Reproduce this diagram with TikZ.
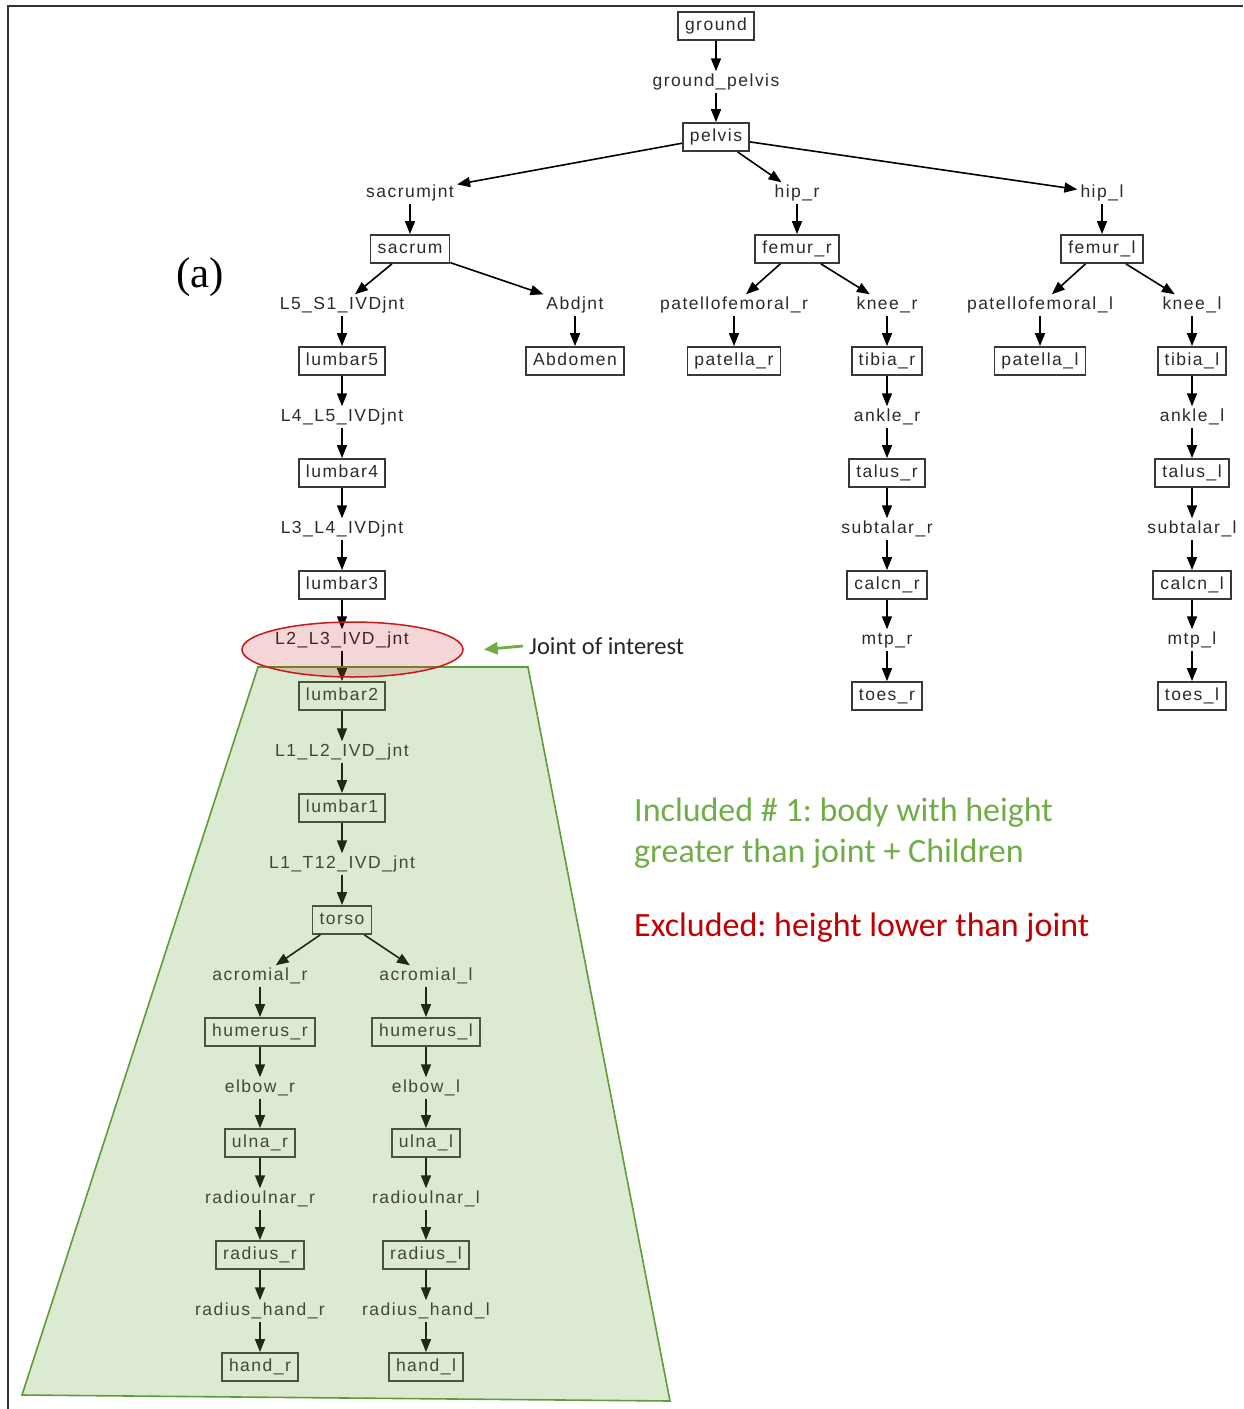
\documentclass[tikz,border=0pt]{standalone}
\usepackage{fontspec}
\setmainfont{Liberation Sans}
\newfontfamily\dfont{Liberation Sans}[LetterSpace=8.5]
\newfontfamily\cfont{Carlito}
\newfontfamily\tfont{Liberation Serif}
\usetikzlibrary{arrows.meta,shapes.geometric}
\definecolor{txt}{HTML}{2A2A2A}
\definecolor{ogreen}{HTML}{70AD47}
\definecolor{gline}{HTML}{5E9C3A}
\definecolor{ored}{HTML}{C00000}
\frenchspacing
\begin{document}
\begin{tikzpicture}[x=1pt,y=-1pt,
  lbl/.style={font=\dfont\fontsize{17.5}{17.5}\selectfont, text=txt, text height=12.5pt, text depth=3.5pt, inner xsep=3pt, inner ysep=2.5pt},
  body/.style={lbl, draw=black!78, line width=1.8pt, inner xsep=7pt, inner ysep=6pt},
  edge/.style={-{Triangle[length=13pt,width=10pt]}, line width=1.6pt, black},
  garrow/.style={-{Triangle[length=14pt,width=12pt]}, line width=2.8pt, ogreen}]
\useasboundingbox (0,0) rectangle (1243,1409);
\draw[line width=2.2pt, black!80] (8,1409) -- (8,6) -- (1243,6);

% top
\node[body] (ground) at (716,26) {ground};
\node[lbl] (gp) at (716,82) {ground\_pelvis};
\node[body] (pelvis) at (716,137) {pelvis};
\node[lbl] (sacj) at (410,193) {sacrumjnt};
\node[lbl] (hipr) at (797,193) {hip\_r};
\node[lbl] (hipl) at (1102,193) {hip\_l};
\node[body] (sacrum) at (410,249) {sacrum};
\node[body] (femr) at (797,249) {femur\_r};
\node[body] (feml) at (1102,249) {femur\_l};
\node[lbl] (l5s1) at (342,305) {L5\_S1\_IVDjnt};
\node[lbl] (abdj) at (575,305) {Abdjnt};
\node[lbl] (patfr) at (734,305) {patellofemoral\_r};
\node[lbl] (kneer) at (887,305) {knee\_r};
\node[lbl] (patfl) at (1040,305) {patellofemoral\_l};
\node[lbl] (kneel) at (1192,305) {knee\_l};
\node[body] (lumbar5) at (342,361) {lumbar5};
\node[body] (abdomen) at (575,361) {Abdomen};
\node[body] (patr) at (734,361) {patella\_r};
\node[body] (tibr) at (887,361) {tibia\_r};
\node[body] (patl) at (1040,361) {patella\_l};
\node[body] (tibl) at (1192,361) {tibia\_l};
% spine
\node[lbl] (l4l5) at (342,417) {L4\_L5\_IVDjnt};
\node[body] (lumbar4) at (342,473) {lumbar4};
\node[lbl] (l3l4) at (342,529) {L3\_L4\_IVDjnt};
\node[body] (lumbar3) at (342,585) {lumbar3};
\node[lbl] (l2l3) at (342,640) {L2\_L3\_IVD\_jnt};
\node[body] (lumbar2) at (342,696) {lumbar2};
\node[lbl] (l1l2) at (342,752) {L1\_L2\_IVD\_jnt};
\node[body] (lumbar1) at (342,808) {lumbar1};
\node[lbl] (l1t12) at (342,864) {L1\_T12\_IVD\_jnt};
\node[body] (torso) at (342,920) {torso};
% legs
\node[lbl] (ankr) at (887,417) {ankle\_r};
\node[body] (talr) at (887,473) {talus\_r};
\node[lbl] (subr) at (887,529) {subtalar\_r};
\node[body] (calr) at (887,585) {calcn\_r};
\node[lbl] (mtpr) at (887,640) {mtp\_r};
\node[body] (toer) at (887,696) {toes\_r};
\node[lbl] (ankl) at (1192,417) {ankle\_l};
\node[body] (tall) at (1192,473) {talus\_l};
\node[lbl] (subl) at (1192,529) {subtalar\_l};
\node[body] (call) at (1192,585) {calcn\_l};
\node[lbl] (mtpl) at (1192,640) {mtp\_l};
\node[body] (toel) at (1192,696) {toes\_l};
% arms
\node[lbl] (acr) at (260,976) {acromial\_r};
\node[body] (humr) at (260,1032) {humerus\_r};
\node[lbl] (elbr) at (260,1088) {elbow\_r};
\node[body] (ulnr) at (260,1143) {ulna\_r};
\node[lbl] (rur) at (260,1199) {radioulnar\_r};
\node[body] (radr) at (260,1255) {radius\_r};
\node[lbl] (rhr) at (260,1311) {radius\_hand\_r};
\node[body] (handr) at (260,1367) {hand\_r};
\node[lbl] (acl) at (426,976) {acromial\_l};
\node[body] (huml) at (426,1032) {humerus\_l};
\node[lbl] (elbl) at (426,1088) {elbow\_l};
\node[body] (ulnl) at (426,1143) {ulna\_l};
\node[lbl] (rul) at (426,1199) {radioulnar\_l};
\node[body] (radl) at (426,1255) {radius\_l};
\node[lbl] (rhl) at (426,1311) {radius\_hand\_l};
\node[body] (handl) at (426,1367) {hand\_l};

\foreach \a/\b in {ground/gp, gp/pelvis, pelvis/sacj, pelvis/hipr, pelvis/hipl,
  sacj/sacrum, hipr/femr, hipl/feml, sacrum/l5s1, sacrum/abdj, femr/patfr, femr/kneer,
  feml/patfl, feml/kneel, l5s1/lumbar5, abdj/abdomen, patfr/patr, kneer/tibr, patfl/patl,
  kneel/tibl, lumbar5/l4l5, tibr/ankr, tibl/ankl, l4l5/lumbar4, ankr/talr, ankl/tall,
  lumbar4/l3l4, talr/subr, tall/subl, l3l4/lumbar3, subr/calr, subl/call, lumbar3/l2l3,
  calr/mtpr, call/mtpl, l2l3/lumbar2, mtpr/toer, mtpl/toel, lumbar2/l1l2, l1l2/lumbar1,
  lumbar1/l1t12, l1t12/torso, torso/acr, torso/acl, acr/humr, acl/huml, humr/elbr,
  huml/elbl, elbr/ulnr, elbl/ulnl, ulnr/rur, ulnl/rul, rur/radr, rul/radl, radr/rhr,
  radl/rhl, rhr/handr, rhl/handl}
  \draw[edge] (\a) -- (\b);

% overlays
\draw[fill=ogreen, fill opacity=0.25, draw=gline, line width=1.6pt]
  (258,667) -- (528,667) -- (670,1401) -- (22,1395) -- cycle;
\node[ellipse, inner sep=0pt, minimum width=221pt, minimum height=55pt,
  draw=ored!90, line width=1.5pt, fill=ored, fill opacity=0.16] (hl) at (352.5,649.5) {};

\node[font=\cfont\fontsize{24.5}{24.5}\selectfont, text=black!85, anchor=west, inner sep=0pt] (joi) at (529,646) {Joint of interest};
\draw[garrow] ([xshift=-6pt]joi.west) -- ([xshift=20pt]hl.east);

\node[font=\cfont\fontsize{34}{41}\selectfont, text=ogreen, anchor=base west, align=left, inner sep=0pt] (inc) at (634,862) {Included \# 1: body with height\\greater than joint + Children};
\node[font=\cfont\fontsize{34}{41}\selectfont, text=ored, anchor=base west, inner sep=0pt] (exc) at (634,936) {Excluded: height lower than joint};
\node[font=\tfont\fontsize{43}{43}\selectfont, anchor=base, inner sep=0pt] (lab) at (200,287) {(a)};
\end{tikzpicture}
\end{document}
